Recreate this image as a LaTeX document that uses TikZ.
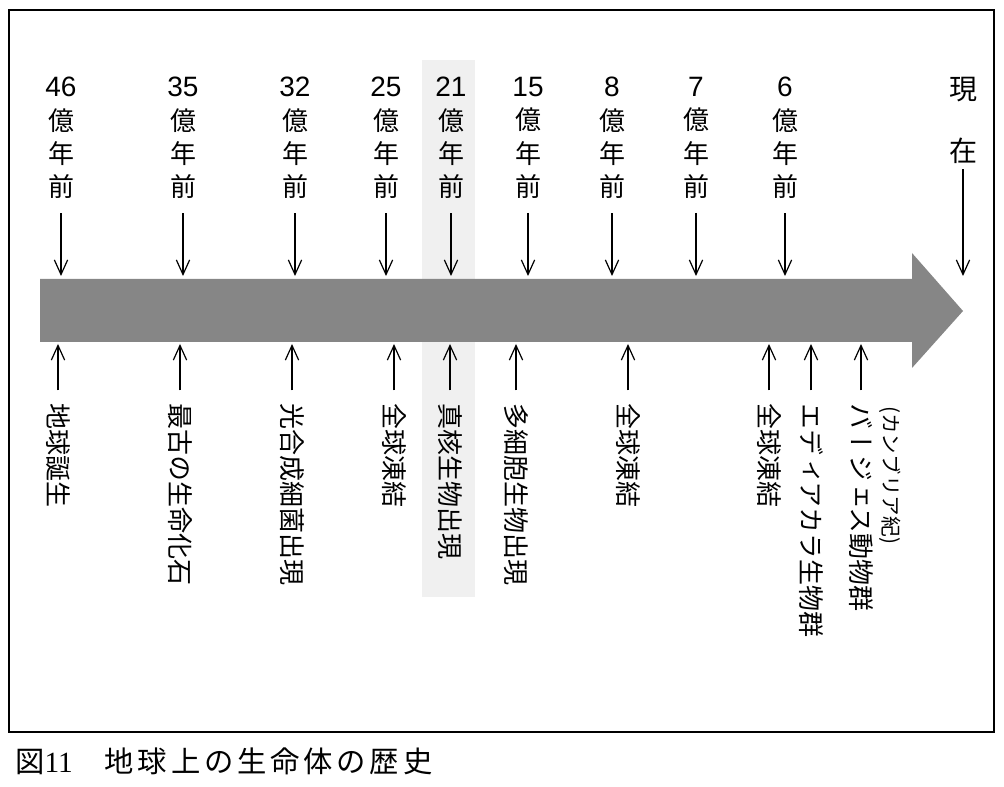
\documentclass[tikz,border=0pt]{standalone}
\usepackage{fontspec}
\setmainfont{Noto Sans CJK JP}
\newfontfamily\vjp[Vertical=RotatedGlyphs]{Noto Sans CJK JP}
\newfontfamily\numfont{Liberation Sans}
\newfontfamily\capnum{Liberation Serif}
\usepackage{tikz}
\usetikzlibrary{arrows.meta,positioning}
\definecolor{bandgray}{HTML}{F0F0F0}
\definecolor{arrowgray}{HTML}{868686}

\begin{document}
\begin{tikzpicture}[
    x=0.75pt, y=-0.75pt,
    % --- node styles -------------------------------------------------
    ago/.style={
        align=center, inner sep=0pt, anchor=north,
        font=\fontsize{19.5}{25}\selectfont
    },
    event/.style={
        rotate=-90, anchor=west, inner sep=0pt,
        font=\vjp\fontsize{19.5}{19.5}\selectfont
    },
    pointer/.style={-{Straight Barb[length=11pt,width=10pt]}, line width=0.9pt}
]
\useasboundingbox (0,0) rectangle (1004,787);

% --- frame, highlight band and time arrow ------------------------
\draw[line width=2pt] (9,10) rectangle (994,732);
\fill[bandgray] (422,60) rectangle (475,597);
\fill[arrowgray] (40,279) -- (912,279) -- (912,253) -- (963,311)
    -- (912,368) -- (912,342) -- (40,342) -- cycle;

% --- ages above the arrow ----------------------------------------
\node[ago] (y46) at (61,77)  {{\numfont\fontsize{21}{25}\selectfont 46}\\億\\年\\前};
\node[ago] (y35) at (183,77) {{\numfont\fontsize{21}{25}\selectfont 35}\\億\\年\\前};
\node[ago] (y32) at (295,77) {{\numfont\fontsize{21}{25}\selectfont 32}\\億\\年\\前};
\node[ago] (y25) at (386,77) {{\numfont\fontsize{21}{25}\selectfont 25}\\億\\年\\前};
\node[ago] (y21) at (451,77) {{\numfont\fontsize{21}{25}\selectfont 21}\\億\\年\\前};
\node[ago] (y15) at (528,77) {{\numfont\fontsize{21}{25}\selectfont 15}\\億\\年\\前};
\node[ago] (y8)  at (612,77) {{\numfont\fontsize{21}{25}\selectfont 8}\\億\\年\\前};
\node[ago] (y7)  at (696,77) {{\numfont\fontsize{21}{25}\selectfont 7}\\億\\年\\前};
\node[ago] (y6)  at (785,77) {{\numfont\fontsize{21}{25}\selectfont 6}\\億\\年\\前};
\node[ago, font=\fontsize{21}{46.5}\selectfont] (now) at (963,77) {現\\在};

\coordinate (d46) at (61,276);
\coordinate (d35) at (183,276);
\coordinate (d32) at (295,276);
\coordinate (d25) at (386,276);
\coordinate (d21) at (451,276);
\coordinate (d15) at (528,276);
\coordinate (d8)  at (612,276);
\coordinate (d7)  at (696,276);
\coordinate (d6)  at (785,276);
\coordinate (d0)  at (963,276);

\draw[pointer, shorten <=10.5pt] (y46) -- (d46);
\draw[pointer, shorten <=10.5pt] (y35) -- (d35);
\draw[pointer, shorten <=10.5pt] (y32) -- (d32);
\draw[pointer, shorten <=10.5pt] (y25) -- (d25);
\draw[pointer, shorten <=10.5pt] (y21) -- (d21);
\draw[pointer, shorten <=10.5pt] (y15) -- (d15);
\draw[pointer, shorten <=10.5pt] (y8)  -- (d8);
\draw[pointer, shorten <=10.5pt] (y7)  -- (d7);
\draw[pointer, shorten <=10.5pt] (y6)  -- (d6);
\draw[pointer, shorten <=4pt]    (now) -- (d0);

% --- events below the arrow --------------------------------------
\node[event] (earth)   at (58,403)  {地球誕生};
\node[event] (fossil)  at (180,403) {最古の生命化石};
\node[event] (cyano)   at (292,403) {光合成細菌出現};
\node[event] (snow1)   at (394,403) {全球凍結};
\node[event] (euk)     at (450,403) {真核生物出現};
\node[event] (multi)   at (516,403) {多細胞生物出現};
\node[event] (snow2)   at (628,403) {全球凍結};
\node[event] (snow3)   at (769,403) {全球凍結};
\node[event] (ediac)   at (811,403) {エディアカラ生物群};
\node[event] (burgess) at (861,403) {バージェス動物群};
\node[event, font=\vjp\fontsize{15.5}{15.5}\selectfont] (cambr) at (890,406) {(カンブリア紀)};

\coordinate (u1)  at (58,344);
\coordinate (u2)  at (180,344);
\coordinate (u3)  at (292,344);
\coordinate (u4)  at (394,344);
\coordinate (u5)  at (450,344);
\coordinate (u6)  at (516,344);
\coordinate (u7)  at (628,344);
\coordinate (u8)  at (769,344);
\coordinate (u9)  at (811,344);
\coordinate (u10) at (861,344);

\draw[pointer, shorten <=9.5pt] (earth.west)   -- (u1);
\draw[pointer, shorten <=9.5pt] (fossil.west)  -- (u2);
\draw[pointer, shorten <=9.5pt] (cyano.west)   -- (u3);
\draw[pointer, shorten <=9.5pt] (snow1.west)   -- (u4);
\draw[pointer, shorten <=9.5pt] (euk.west)     -- (u5);
\draw[pointer, shorten <=9.5pt] (multi.west)   -- (u6);
\draw[pointer, shorten <=9.5pt] (snow2.west)   -- (u7);
\draw[pointer, shorten <=9.5pt] (snow3.west)   -- (u8);
\draw[pointer, shorten <=9.5pt] (ediac.west)   -- (u9);
\draw[pointer, shorten <=9.5pt] (burgess.west) -- (u10);

% --- caption -----------------------------------------------------
\node[anchor=west, inner sep=0pt, font=\fontsize{22}{22}\selectfont\addfontfeature{LetterSpace=13}]
    (caption) at (15,761) {図{\capnum 11}\hspace{24pt}地球上の生命体の歴史};

\end{tikzpicture}
\end{document}
